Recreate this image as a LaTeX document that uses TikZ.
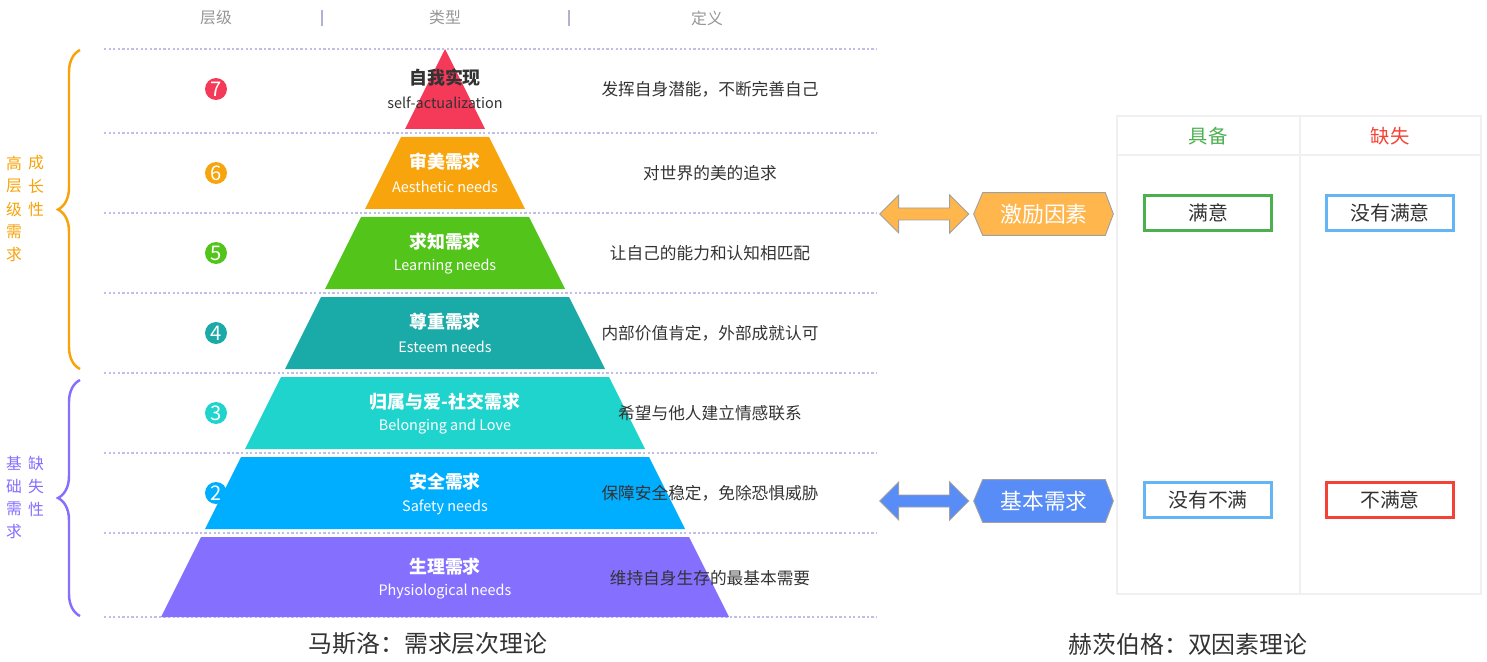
\documentclass[tikz,border=0pt]{standalone}
\usepackage{fontspec}
\setmainfont{Noto Sans CJK SC}
\usepackage{xcolor}
\definecolor{lv7}{RGB}{245,57,88}
\definecolor{lv6}{RGB}{248,164,12}
\definecolor{lv5}{RGB}{82,196,26}
\definecolor{lv4}{RGB}{26,170,168}
\definecolor{lv3}{RGB}{32,212,206}
\definecolor{lv2}{RGB}{0,174,255}
\definecolor{lv1}{RGB}{132,111,255}
\definecolor{txtdark}{RGB}{51,51,51}
\definecolor{hdgray}{RGB}{150,150,150}
\definecolor{dotline}{RGB}{190,190,232}
\definecolor{growc}{RGB}{247,163,10}
\definecolor{basec}{RGB}{132,111,255}
\definecolor{motivc}{RGB}{255,182,77}
\definecolor{basicc}{RGB}{88,140,246}
\definecolor{edgegray}{RGB}{160,160,160}
\definecolor{gridc}{RGB}{240,240,240}
\definecolor{okgreen}{RGB}{76,175,80}
\definecolor{okblue}{RGB}{100,181,246}
\definecolor{okred}{RGB}{244,67,54}
\newcommand{\fpt}[1]{\fontsize{#1pt}{#1pt}\selectfont}
\usepackage{tikz}
\usetikzlibrary{calc,decorations.pathreplacing,backgrounds}

\begin{document}
\begin{tikzpicture}[x=0.02cm,y=-0.02cm,
  rowline/.style={draw=dotline,line width=0.7pt,dash pattern=on 1.3pt off 1.3pt},
  hdtext/.style={text=hdgray,font=\fpt{9}},
  sepbar/.style={draw=dotline!80!gray,line width=0.8pt},
  numdot/.style={circle,inner sep=0pt,minimum size=0.44cm,text=white,font=\fpt{11.5}},
  ttl/.style={font=\fpt{10.2}\bfseries},
  subttl/.style={font=\fpt{8.2}},
  dfn/.style={text=txtdark,font=\fpt{9.5}},
  bracetext/.style={font=\fpt{9},inner sep=0pt},
  tag/.style={minimum width=2.44cm,minimum height=0.84cm,inner sep=0pt,text=white,font=\fpt{12.4}},
  tagedge/.style={draw=edgegray,line width=0.5pt},
  box/.style={draw,line width=1.4pt,minimum width=2.54cm,minimum height=0.7cm,inner sep=0pt,text=txtdark,font=\fpt{11.3}},
  caption/.style={text=txtdark,font=\fpt{13.6}}]
  \useasboundingbox (0,0) rectangle (1487,662);

  % header of the pyramid
  \node[hdtext] (hLvl) at (216,18) {层级};
  \node[hdtext] (hType) at (445,18) {类型};
  \node[hdtext] (hDef) at (707,18) {定义};
  \draw[sepbar] (322,10) -- (322,26);
  \draw[sepbar] (569,10) -- (569,26);

  % dotted row lines
  \foreach \y in {49,133,213,293,373,453,533,617}
    \draw[rowline] (104,\y) -- (877,\y);

  % level numbers
  \foreach \n/\c in {7/89,6/173,5/253,4/333,3/413,2/493}
    \node[numdot,fill=lv\n] (num\n) at (216,\c) {\n};

  % pyramid layers
  \foreach \n/\yt/\yb in {7/49/129,6/137/209,5/217/289,4/297/369,3/377/449,2/457/529,1/537/617}
    \fill[lv\n] ({445-0.5*(\yt-49)},\yt) -- ({445+0.5*(\yt-49)},\yt)
      -- ({445+0.5*(\yb-49)},\yb) -- ({445-0.5*(\yb-49)},\yb) -- cycle;

  % names and definitions
  \foreach \n/\c/\tc/\t/\s/\d in {
      7/89/txtdark/自我实现/self-actualization/发挥自身潜能，不断完善自己,
      6/173/white/审美需求/Aesthetic needs/对世界的美的追求,
      5/253/white/求知需求/Learning needs/让自己的能力和认知相匹配,
      4/333/white/尊重需求/Esteem needs/内部价值肯定，外部成就认可,
      3/413/white/归属与爱-社交需求/Belonging and Love/希望与他人建立情感联系,
      2/493/white/安全需求/Safety needs/保障安全稳定，免除恐惧威胁,
      1/578/white/生理需求/Physiological needs/维持自身生存的最基本需要} {
    \node[ttl,text=\tc] (t\n) at (445,\c-11) {\t};
    \node[subttl,text=\tc] (s\n) at (445,\c+14) {\s};
    \node[dfn] (d\n) at (710,\c) {\d};
  }

  % braces on the left
  \draw[growc,line width=1.4pt,decorate,decoration={brace,amplitude=0.44cm}] (80,369) -- (80,50);
  \draw[basec,line width=1.4pt,decorate,decoration={brace,amplitude=0.44cm}] (80,616) -- (80,380);
  \foreach \ch [count=\i] in {高,层,级,需,求}
    \node[bracetext,text=growc] (gA\i) at (14,140+23*\i) {\ch};
  \foreach \ch [count=\i] in {成,长,性}
    \node[bracetext,text=growc] (gB\i) at (36,140+23*\i) {\ch};
  \foreach \ch [count=\i] in {基,础,需,求}
    \node[bracetext,text=basec] (bA\i) at (14,440+23*\i) {\ch};
  \foreach \ch [count=\i] in {缺,失,性}
    \node[bracetext,text=basec] (bB\i) at (36,440+23*\i) {\ch};

  % two factor tags
  \node[tag] (motiv) at (1044,214) {激励因素};
  \node[tag] (basic) at (1044,501) {基本需求};
  \begin{scope}[on background layer]
    \filldraw[tagedge,fill=motivc] (motiv.north west) -- (motiv.north east) -- ([xshift=0.16cm]motiv.east)
      -- (motiv.south east) -- (motiv.south west) -- ([xshift=-0.18cm]motiv.west) -- cycle;
    \filldraw[tagedge,fill=basicc] (basic.north west) -- (basic.north east) -- ([xshift=0.16cm]basic.east)
      -- (basic.south east) -- (basic.south west) -- ([xshift=-0.18cm]basic.west) -- cycle;
  \end{scope}
  \filldraw[tagedge,fill=motivc] ($(motiv.west)+(-14,0)$) -- ++(-19,-19) -- ++(0,13) -- ++(-51,0) -- ++(0,-13)
    -- ++(-19,19) -- ++(19,19) -- ++(0,-13) -- ++(51,0) -- ++(0,13) -- cycle;
  \filldraw[tagedge,fill=basicc] ($(basic.west)+(-14,0)$) -- ++(-19,-19) -- ++(0,13) -- ++(-51,0) -- ++(0,-13)
    -- ++(-19,19) -- ++(19,19) -- ++(0,-13) -- ++(51,0) -- ++(0,13) -- cycle;

  % table
  \draw[gridc,line width=0.6pt] (1117,116) rectangle (1481,594);
  \draw[gridc,line width=0.6pt] (1300,116) -- (1300,594);
  \draw[gridc,line width=0.6pt] (1117,155) -- (1481,155);
  \node[text=okgreen,font=\fpt{11}] (hasHd) at (1208,136) {具备};
  \node[text=okred,font=\fpt{11}] (lackHd) at (1390,136) {缺失};
  \node[box,draw=okgreen] (sat) at (1208,213) {满意};
  \node[box,draw=okblue] (noSat) at (1390,213) {没有满意};
  \node[box,draw=okblue] (noDis) at (1208,500) {没有不满};
  \node[box,draw=okred] (dis) at (1390,500) {不满意};

  % captions
  \node[caption] (maslowCap) at (428,644) {马斯洛：需求层次理论};
  \node[caption] (herzCap) at (1188,644) {赫茨伯格：双因素理论};
\end{tikzpicture}
\end{document}
